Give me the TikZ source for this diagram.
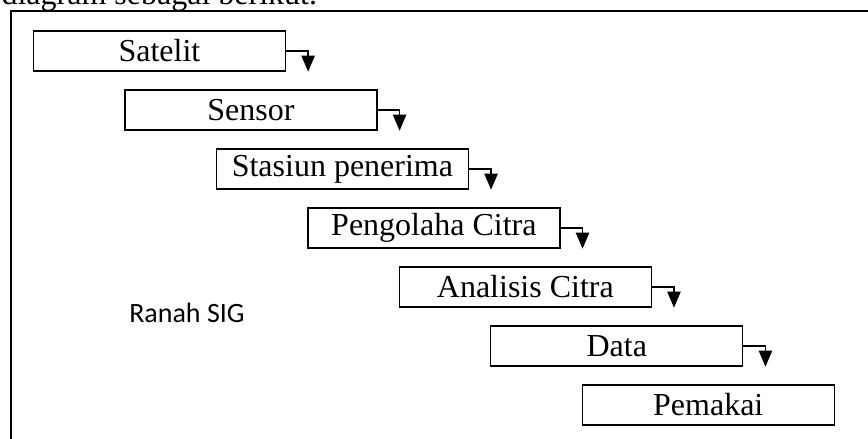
\documentclass[tikz,border=0pt]{standalone}
\usepackage{fontspec}
\setmainfont{Liberation Serif}
\newfontfamily\calibrifont{Carlito}
\usetikzlibrary{arrows.meta, positioning}
\tikzstyle{stepbox} =
[rectangle, minimum width = 189pt, minimum height = 30pt, inner sep = 0pt,
text centered, draw=black, line width = 1pt, font=\fontsize{24}{28}\selectfont]
\tikzstyle{frame} = [draw, line width = 1.5pt]
\tikzstyle{line} = [draw, line width = 1pt, -{Triangle[length=12pt, width=10pt]}]
\begin{document}
\begin{tikzpicture}[node distance = 44.25pt, auto]
  \useasboundingbox (0,0) rectangle (651pt,-329.25pt);
  % page text and frame
  \node [anchor=base west, inner sep=0pt, font=\fontsize{24}{28}\selectfont]
   (intro) at (1pt,-3.5pt) {diagram sebagai berikut.};
  \path [frame] (8.6pt,-8.25pt) rectangle (680pt,-360pt);
  % boxes
  \node [stepbox] (satelit) at (119.6pt,-38.25pt) {Satelit};
  \node [stepbox, below of=satelit, shift=(right:68.6pt)] (sensor) {Sensor};
  \node [stepbox, below of=sensor, shift=(right:68.6pt)] (stasiun)
   {Stasiun penerima};
  \node [stepbox, below of=stasiun, shift=(right:68.6pt)] (olah)
   {Pengolaha Citra};
  \node [stepbox, below of=olah, shift=(right:68.6pt)] (analisis)
   {Analisis Citra};
  \node [stepbox, below of=analisis, shift=(right:68.6pt)] (data) {Data};
  \node [stepbox, below of=data, shift=(right:68.6pt)] (pemakai) {Pemakai};
  \node [anchor=base west, inner sep=0pt, font=\calibrifont\fontsize{21}{25}\selectfont]
   (ranah) at (96.75pt,-241.5pt) {Ranah SIG};
  % arrow ends
  \coordinate [right=16.5pt of satelit.south east] (tsatelit);
  \coordinate [right=16.5pt of sensor.south east] (tsensor);
  \coordinate [right=16.5pt of stasiun.south east] (tstasiun);
  \coordinate [right=16.5pt of olah.south east] (tolah);
  \coordinate [right=16.5pt of analisis.south east] (tanalisis);
  \coordinate [right=16.5pt of data.south east] (tdata);
  % arrows
  \path [line] (satelit) -| (tsatelit);
  \path [line] (sensor) -| (tsensor);
  \path [line] (stasiun) -| (tstasiun);
  \path [line] (olah) -| (tolah);
  \path [line] (analisis) -| (tanalisis);
  \path [line] (data) -| (tdata);%| vline to disable odd look in emacs
\end{tikzpicture}
\end{document}
